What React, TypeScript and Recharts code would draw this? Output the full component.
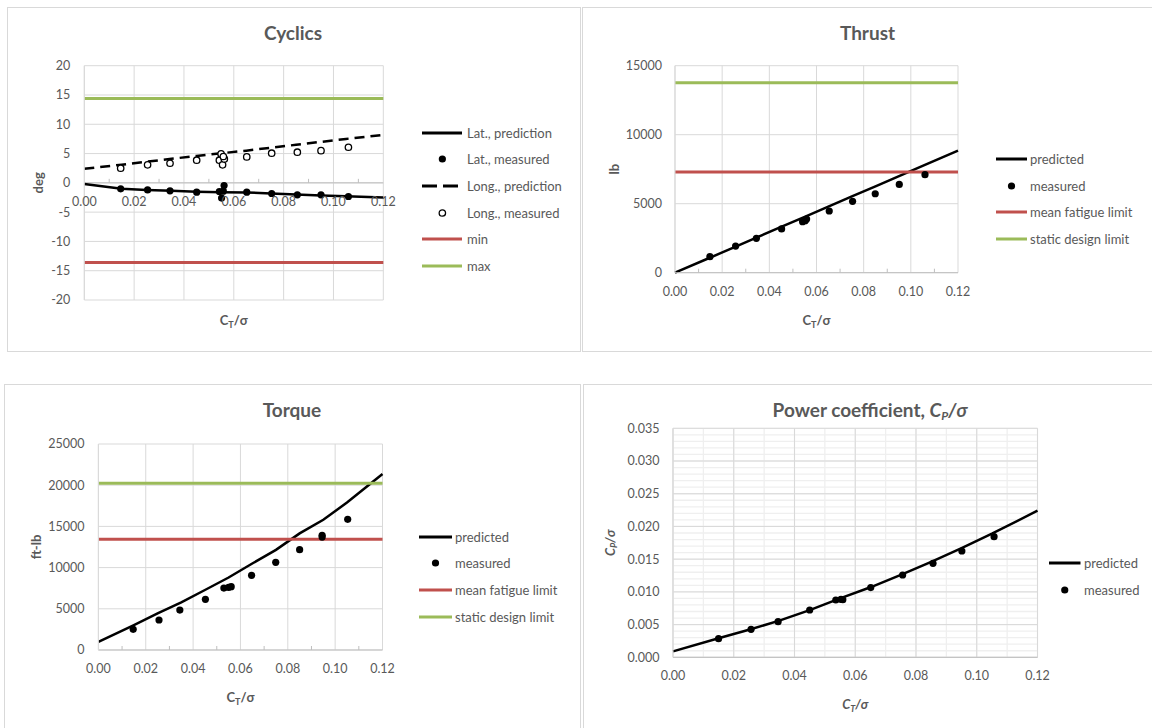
import React from 'react'
import {
  ComposedChart, Line, Scatter, XAxis, YAxis, CartesianGrid, ReferenceLine, Legend,
} from 'recharts'

const FONT = 'Lato, "Open Sans", sans-serif'
const INK = '#595959'
const GRID = '#d9d9d9'
const MINOR_GRID = '#efefef'
const AXIS = '#bfbfbf'
const RED = '#c0504d'
const GREEN = '#9bbb59'

// shared x axis: C_T / sigma
const ctTicks = [0, 0.01, 0.02, 0.03, 0.04, 0.05, 0.06, 0.07, 0.08, 0.09, 0.1, 0.11, 0.12]
const ctMajor = [0, 0.02, 0.04, 0.06, 0.08, 0.1, 0.12]
const predCt = [0, 0.015, 0.025, 0.035, 0.045, 0.055, 0.065, 0.075, 0.085, 0.095, 0.105, 0.12]

// Cyclics (deg)
const cyclicTicks = [-20, -15, -10, -5, 0, 5, 10, 15, 20]
const latPredicted = [-0.2, -1.0, -1.2, -1.35, -1.5, -1.6, -1.65, -1.8, -2.0, -2.15, -2.3, -2.5]
const longPredicted = [2.4, 3.1, 3.6, 4.1, 4.6, 5.05, 5.5, 6.0, 6.5, 7.0, 7.5, 8.2]
const latMeasured: [number, number][] = [
  [0.0146, -1.02], [0.0254, -1.2], [0.0344, -1.36], [0.0451, -1.59], [0.0542, -1.48],
  [0.0558, -1.42], [0.0561, -0.46], [0.0551, -2.6], [0.0652, -1.59], [0.0752, -1.82],
  [0.0855, -2.05], [0.095, -2.05], [0.106, -2.33],
]
const longMeasured: [number, number][] = [
  [0.0146, 2.5], [0.0254, 3.07], [0.0344, 3.35], [0.0451, 3.87], [0.0542, 3.87],
  [0.0555, 3.07], [0.0549, 4.94], [0.0562, 4.09], [0.0558, 4.5], [0.0652, 4.43],
  [0.0752, 5.06], [0.0855, 5.23], [0.095, 5.5], [0.106, 6.08],
]
const cyclicMin = -13.6
const cyclicMax = 14.4
const cyclicLegend = ['Lat., prediction', 'Lat., measured', 'Long., prediction', 'Long., measured', 'min', 'max']

// Thrust (lb)
const thrustTicks = [0, 5000, 10000, 15000]
const thrustPredicted = [0, 1100, 1840, 2580, 3320, 4050, 4790, 5530, 6260, 7000, 7740, 8840]
const thrustMeasured: [number, number][] = [
  [0.0148, 1160], [0.0257, 1930], [0.0345, 2490], [0.0452, 3170], [0.0541, 3700],
  [0.0552, 3770], [0.0558, 3890], [0.0654, 4470], [0.0753, 5170], [0.0849, 5720],
  [0.0951, 6400], [0.106, 7100],
]
const thrustFatigue = 7300
const thrustStatic = 13770

// Torque (ft-lb)
const torqueTicks = [0, 5000, 10000, 15000, 20000, 25000]
const torquePredicted = [1000, 3030, 4450, 5790, 7280, 8800, 10500, 12150, 14150, 15800, 17900, 21350]
const torqueMeasured: [number, number][] = [
  [0.0147, 2510], [0.0256, 3640], [0.0344, 4850], [0.0452, 6150], [0.053, 7520],
  [0.055, 7600], [0.0561, 7690], [0.0647, 9060], [0.0749, 10640], [0.085, 12180],
  [0.0945, 13920], [0.0945, 13700], [0.1053, 15860],
]
const torqueFatigue = 13450
const torqueStatic = 20250

const limitLegend = ['predicted', 'measured', 'mean fatigue limit', 'static design limit']

// Power coefficient (Cp / sigma)
const powerTicks = [0, 0.005, 0.01, 0.015, 0.02, 0.025, 0.03, 0.035]
const powerPredicted = [0.0009, 0.0029, 0.0042, 0.0056, 0.0072, 0.009, 0.0107, 0.0126, 0.0146, 0.0167, 0.0189, 0.0224]
const powerMeasured: [number, number][] = [
  [0.015, 0.00285], [0.0257, 0.00428], [0.0346, 0.00545], [0.045, 0.00723], [0.0536, 0.00876],
  [0.0553, 0.00886], [0.0559, 0.0088], [0.0651, 0.01065], [0.0756, 0.01258], [0.0856, 0.01437],
  [0.0951, 0.01625], [0.1057, 0.01844],
]
const powerLegend = ['predicted', 'measured']

// minor gridlines for the power chart
const powerMinorY = Array.from({ length: 36 }, (_, i) => i / 1000)
const ctMinor = ctTicks

const curve = (ys: number[]) => predCt.map((x, i) => ({ x, y: ys[i] }))
const points = (pts: [number, number][]) => pts.map(([x, y]) => ({ x, y }))

type Box = { left: number; top: number; width: number; height: number }
type Plot = { left: number; top: number; right: number; bottom: number }

function layout(box: Box, plot: Plot) {
  return {
    margin: { top: plot.top - box.top, right: box.left + box.width - plot.right, left: 0, bottom: 0 },
    yAxisWidth: plot.left - box.left,
    xAxisHeight: box.top + box.height - plot.bottom,
    midX: (plot.left + plot.right) / 2 - box.left,
    midY: (plot.top + plot.bottom) / 2 - box.top,
    plotH: plot.bottom - plot.top,
  }
}

function ctTick(shift: number, minorMarks: boolean) {
  return function Tick(p: any) {
    const v = p.payload.value as number
    const ax = p.y - shift
    if (Math.round(v * 100) % 2) {
      return minorMarks ? <line x1={p.x} x2={p.x} y1={ax} y2={ax - 4} stroke={AXIS} /> : <g />
    }
    return (
      <text x={p.x} y={ax + 23} textAnchor="middle" fill={INK} fontSize={12.5} fontFamily={FONT}>
        {v.toFixed(2)}
      </text>
    )
  }
}

const ctTitle = (cx: number, y: number, italic: boolean) => () => (
  <text x={cx} y={y} textAnchor="middle" fill={INK} fontSize={13} fontWeight={700}
    fontStyle={italic ? 'italic' : 'normal'} fontFamily={FONT}>
    <tspan>C</tspan>
    <tspan dy={3} fontSize={9}>T</tspan>
    <tspan dy={-3}>/σ</tspan>
  </text>
)

const yTitle = (cx: number, cy: number, content: React.ReactNode, italic = false) => () => (
  <text x={cx} y={cy} transform={`rotate(-90 ${cx} ${cy})`} textAnchor="middle" dominantBaseline="central"
    fill={INK} fontSize={13} fontWeight={700} fontStyle={italic ? 'italic' : 'normal'} fontFamily={FONT}>
    {content}
  </text>
)

type Glyph = 'solid' | 'dashed' | 'dot' | 'ring' | 'red' | 'green'

function LegendRows({ names, glyphs, swatch, gap }: { names: string[]; glyphs: Glyph[]; swatch: number; gap: number }) {
  return (
    <div style={{ fontFamily: FONT }}>
      {names.map((name, i) => {
        const g = glyphs[i]
        let mark: React.ReactNode
        if (g === 'dot') mark = <circle cx={swatch / 2} cy={5} r={3.6} fill="#000" />
        else if (g === 'ring') mark = <circle cx={swatch / 2} cy={5} r={3.2} fill="#fff" stroke="#000" strokeWidth={1.3} />
        else {
          const stroke = g === 'red' ? RED : g === 'green' ? GREEN : '#000'
          mark = <line x1={0} x2={swatch} y1={5} y2={5} stroke={stroke} strokeWidth={3}
            strokeDasharray={g === 'dashed' ? '15 6' : undefined} />
        }
        return (
          <div key={name} style={{ display: 'flex', alignItems: 'center', height: 26.7 }}>
            <svg width={swatch} height={10} style={{ flex: 'none' }}>{mark}</svg>
            <span style={{ marginLeft: gap, fontSize: 13, color: INK, whiteSpace: 'nowrap' }}>{name}</span>
          </div>
        )
      })}
    </div>
  )
}

function Title({ cx, cy, children }: { cx: number; cy: number; children: React.ReactNode }) {
  return (
    <div style={{
      position: 'absolute', left: cx - 200, top: cy - 11, width: 400, textAlign: 'center',
      fontSize: 19, fontWeight: 700, lineHeight: '22px', color: INK, fontFamily: FONT,
    }}>{children}</div>
  )
}

function Frame({ left, top, width, height }: Box) {
  return <div style={{ position: 'absolute', left, top, width, height, border: `1px solid ${GRID}`, boxSizing: 'border-box' }} />
}

const yTick = { fill: INK, fontSize: 12.5, fontFamily: FONT }
const dotShape = (p: any) => <circle cx={p.cx} cy={p.cy} r={3.6} fill="#000" />
const ringShape = (p: any) => <circle cx={p.cx} cy={p.cy} r={3.2} fill="#fff" stroke="#000" strokeWidth={1.3} />

function CyclicsChart() {
  const box = { left: 7, top: 7, width: 573, height: 345 }
  const g = layout(box, { left: 84.3, top: 65.7, right: 383.3, bottom: 300 })
  const shift = g.plotH * (0 - -20) / 40
  return (
    <div style={{ position: 'absolute', left: box.left, top: box.top }}>
      <ComposedChart width={box.width} height={box.height} margin={g.margin}>
        <CartesianGrid stroke={GRID} verticalValues={ctMajor} horizontalValues={cyclicTicks} />
        <XAxis type="number" dataKey="x" domain={[0, 0.12]} ticks={ctTicks} interval={0} height={g.xAxisHeight}
          axisLine={false} tickLine={false} tickSize={0} tickMargin={0} tick={ctTick(shift, true)}
          label={ctTitle(g.midX, 317.5, false)} />
        <YAxis type="number" dataKey="y" domain={[-20, 20]} ticks={cyclicTicks} interval={0} width={g.yAxisWidth}
          axisLine={{ stroke: GRID }} tickLine={false} tickSize={0} tickMargin={14} tick={yTick}
          label={yTitle(31, g.midY, 'deg')} />
        <ReferenceLine y={0} stroke={AXIS} />
        <ReferenceLine y={cyclicMin} stroke={RED} strokeWidth={3} />
        <ReferenceLine y={cyclicMax} stroke={GREEN} strokeWidth={3} />
        <Line data={curve(latPredicted)} dataKey="y" type="linear" stroke="#000" strokeWidth={2.5} dot={false} isAnimationActive={false} />
        <Scatter data={points(latMeasured)} dataKey="y" shape={dotShape} isAnimationActive={false} />
        <Line data={curve(longPredicted)} dataKey="y" type="linear" stroke="#000" strokeWidth={2.5} strokeDasharray="10 6" dot={false} isAnimationActive={false} />
        <Scatter data={points(longMeasured)} dataKey="y" shape={ringShape} isAnimationActive={false} />
        <Legend layout="vertical" align="center" verticalAlign="middle" wrapperStyle={{ left: 414.7, top: 112.3, width: 150 }}
          content={() => <LegendRows names={cyclicLegend} glyphs={['solid', 'dot', 'dashed', 'ring', 'red', 'green']} swatch={40.7} gap={4.6} />} />
      </ComposedChart>
    </div>
  )
}

function ThrustChart() {
  const box = { left: 582, top: 7, width: 570, height: 345 }
  const g = layout(box, { left: 675, top: 65.7, right: 958, bottom: 272.7 })
  return (
    <div style={{ position: 'absolute', left: box.left, top: box.top }}>
      <ComposedChart width={box.width} height={box.height} margin={g.margin}>
        <CartesianGrid stroke={GRID} verticalValues={ctMajor} horizontalValues={thrustTicks} />
        <XAxis type="number" dataKey="x" domain={[0, 0.12]} ticks={ctTicks} interval={0} height={g.xAxisHeight}
          axisLine={{ stroke: AXIS }} tickLine={false} tickSize={0} tickMargin={0} tick={ctTick(0, true)}
          label={ctTitle(g.midX, 317.5, false)} />
        <YAxis type="number" dataKey="y" domain={[0, 15000]} ticks={thrustTicks} interval={0} width={g.yAxisWidth}
          axisLine={{ stroke: GRID }} tickLine={false} tickSize={0} tickMargin={13} tick={yTick}
          label={yTitle(31.7, g.midY, 'lb')} />
        <Line data={curve(thrustPredicted)} dataKey="y" type="linear" stroke="#000" strokeWidth={2.5} dot={false} isAnimationActive={false} />
        <Scatter data={points(thrustMeasured)} dataKey="y" shape={dotShape} isAnimationActive={false} />
        <ReferenceLine y={thrustFatigue} stroke={RED} strokeWidth={3} />
        <ReferenceLine y={thrustStatic} stroke={GREEN} strokeWidth={3} />
        <Legend layout="vertical" align="center" verticalAlign="middle" wrapperStyle={{ left: 414, top: 138.6, width: 150 }}
          content={() => <LegendRows names={limitLegend} glyphs={['solid', 'dot', 'red', 'green']} swatch={31} gap={3} />} />
      </ComposedChart>
    </div>
  )
}

function TorqueChart() {
  const box = { left: 4, top: 384, width: 576, height: 344 }
  const g = layout(box, { left: 98.4, top: 444, right: 382.5, bottom: 650 })
  return (
    <div style={{ position: 'absolute', left: box.left, top: box.top }}>
      <ComposedChart width={box.width} height={box.height} margin={g.margin}>
        <CartesianGrid stroke={GRID} verticalValues={ctMajor} horizontalValues={torqueTicks} />
        <XAxis type="number" dataKey="x" domain={[0, 0.12]} ticks={ctTicks} interval={0} height={g.xAxisHeight}
          axisLine={{ stroke: AXIS }} tickLine={false} tickSize={0} tickMargin={0} tick={ctTick(0, true)}
          label={ctTitle(g.midX, 318, false)} />
        <YAxis type="number" dataKey="y" domain={[0, 25000]} ticks={torqueTicks} interval={0} width={g.yAxisWidth}
          axisLine={{ stroke: GRID }} tickLine={false} tickSize={0} tickMargin={14} tick={yTick}
          label={yTitle(31.5, g.midY, 'ft-lb')} />
        <Line data={curve(torquePredicted)} dataKey="y" type="linear" stroke="#000" strokeWidth={2.5} dot={false} isAnimationActive={false} />
        <Scatter data={points(torqueMeasured)} dataKey="y" shape={dotShape} isAnimationActive={false} />
        <ReferenceLine y={torqueFatigue} stroke={RED} strokeWidth={3} />
        <ReferenceLine y={torqueStatic} stroke={GREEN} strokeWidth={3} />
        <Legend layout="vertical" align="center" verticalAlign="middle" wrapperStyle={{ left: 415, top: 139.3, width: 150 }}
          content={() => <LegendRows names={limitLegend} glyphs={['solid', 'dot', 'red', 'green']} swatch={33} gap={3} />} />
      </ComposedChart>
    </div>
  )
}

function PowerChart() {
  const box = { left: 583, top: 384, width: 569, height: 344 }
  const g = layout(box, { left: 673, top: 428.3, right: 1037.5, bottom: 657.3 })
  return (
    <div style={{ position: 'absolute', left: box.left, top: box.top }}>
      <ComposedChart width={box.width} height={box.height} margin={g.margin}>
        <CartesianGrid stroke={MINOR_GRID} strokeWidth={1.3} verticalValues={ctMinor} horizontalValues={powerMinorY} />
        <CartesianGrid stroke={GRID} verticalValues={ctMajor} horizontalValues={powerTicks} />
        <XAxis type="number" dataKey="x" domain={[0, 0.12]} ticks={ctTicks} interval={0} height={g.xAxisHeight}
          axisLine={{ stroke: AXIS }} tickLine={false} tickSize={0} tickMargin={0} tick={ctTick(0, false)}
          label={ctTitle(g.midX, 325, true)} />
        <YAxis type="number" dataKey="y" domain={[0, 0.035]} ticks={powerTicks} interval={0} width={g.yAxisWidth}
          axisLine={{ stroke: GRID }} tickLine={false} tickSize={0} tickMargin={13.5} tick={yTick}
          tickFormatter={(v: number) => v.toFixed(3)}
          label={yTitle(27, g.midY, <><tspan>C</tspan><tspan dy={3} fontSize={9}>P</tspan><tspan dy={-3}>/σ</tspan></>, true)} />
        <Line data={curve(powerPredicted)} dataKey="y" type="linear" stroke="#000" strokeWidth={2.5} dot={false} isAnimationActive={false} />
        <Scatter data={points(powerMeasured)} dataKey="y" shape={dotShape} isAnimationActive={false} />
        <Legend layout="vertical" align="center" verticalAlign="middle" wrapperStyle={{ left: 466, top: 166, width: 110 }}
          content={() => <LegendRows names={powerLegend} glyphs={['solid', 'dot']} swatch={31.5} gap={3.5} />} />
      </ComposedChart>
    </div>
  )
}

export default function App() {
  return (
    <div style={{ position: 'absolute', left: 0, top: 0, width: 1152, height: 728, overflow: 'hidden', background: '#fff' }}>
      <Frame left={7} top={7} width={574} height={345} />
      <Frame left={582} top={7} width={600} height={345} />
      <Frame left={4} top={384} width={577} height={400} />
      <Frame left={583} top={384} width={600} height={400} />
      <CyclicsChart />
      <ThrustChart />
      <TorqueChart />
      <PowerChart />
      <Title cx={293} cy={33}>Cyclics</Title>
      <Title cx={867.5} cy={33}>Thrust</Title>
      <Title cx={292} cy={410}>Torque</Title>
      <Title cx={870} cy={410}>
        Power coefficient, <i>C<span style={{ fontSize: 12, verticalAlign: '-3px', lineHeight: 0 }}>P</span>/σ</i>
      </Title>
    </div>
  )
}
